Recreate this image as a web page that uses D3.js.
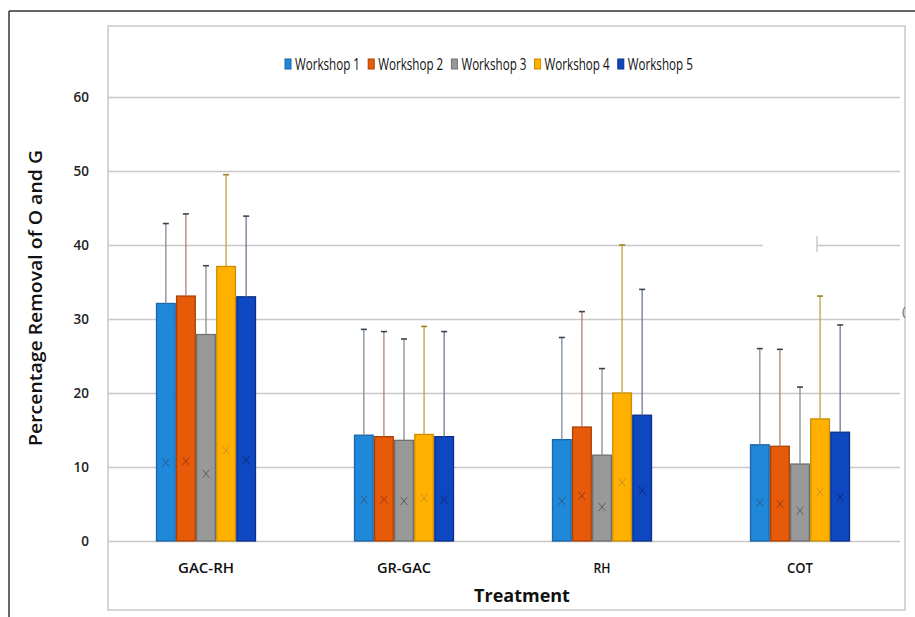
<!DOCTYPE html>
<html>
<head>
<meta charset="utf-8">
<script src="https://cdn.jsdelivr.net/npm/d3@7"></script>
<style>
  html, body { margin: 0; padding: 0; background: #fff; }
  svg { display: block; }
</style>
</head>
<body>
<svg id="chart" width="915" height="617"></svg>
<script>
const categories = ["GAC-RH", "GR-GAC", "RH", "COT"];
const seriesNames = ["Workshop 1", "Workshop 2", "Workshop 3", "Workshop 4", "Workshop 5"];
// bar heights per series (one value per category)
const w1 = [32.1, 14.3, 13.7, 13.0];
const w2 = [33.1, 14.1, 15.4, 12.8];
const w3 = [27.9, 13.6, 11.6, 10.4];
const w4 = [37.1, 14.4, 20.0, 16.5];
const w5 = [33.0, 14.1, 17.0, 14.7];
// upper error bar end values
const e1 = [42.9, 28.6, 27.5, 26.0];
const e2 = [44.2, 28.3, 31.0, 25.9];
const e3 = [37.2, 27.3, 23.3, 20.8];
const e4 = [49.5, 29.0, 40.0, 33.1];
const e5 = [43.9, 28.3, 34.0, 29.2];
// "x" marker values (mean markers)
const m1 = [10.6, 5.6, 5.4, 5.2];
const m2 = [10.8, 5.6, 6.1, 5.0];
const m3 = [9.1, 5.4, 4.6, 4.1];
const m4 = [12.2, 5.8, 7.9, 6.6];
const m5 = [10.9, 5.6, 6.8, 5.9];
const yTicks = [0, 10, 20, 30, 40, 50, 60];

const values = [w1, w2, w3, w4, w5];
const errs = [e1, e2, e3, e4, e5];
const marks = [m1, m2, m3, m4, m5];

const fills = ["#2088d8", "#e65a0a", "#999999", "#ffb000", "#0e48c0"];
const strokes = ["#1a64a8", "#a84000", "#6e6e6e", "#cc8c00", "#0a2e8a"];
const errColors = ["#7d8c9c", "#b08070", "#8c8c8c", "#c0a040", "#6c7a90"];
const markColors = ["#2a5a90", "#a03a10", "#5e5e5e", "#d09020", "#0a2a80"];

const svg = d3.select("#chart");

// outer frame (top and left edges)
svg.append("line").attr("x1", 9).attr("y1", 11).attr("x2", 915).attr("y2", 11)
  .attr("stroke", "#333").attr("stroke-width", 1.5);
svg.append("line").attr("x1", 9).attr("y1", 11).attr("x2", 9).attr("y2", 617)
  .attr("stroke", "#333").attr("stroke-width", 1.5);

// inner chart box
svg.append("rect").attr("x", 108).attr("y", 26).attr("width", 797).attr("height", 584)
  .attr("fill", "none").attr("stroke", "#c8c8c8").attr("stroke-width", 1.5);

const y = d3.scaleLinear().domain([0, 60]).range([541, 97]);
const x0 = d3.scaleBand().domain(categories).range([107, 899]).paddingInner(0.5).paddingOuter(0.25);
const x1 = d3.scaleBand().domain(d3.range(seriesNames.length)).range([0, x0.bandwidth()]).paddingInner(0.07);

// gridlines
const grid = d3.axisLeft(y).tickValues(yTicks).tickSize(-(900 - 108)).tickFormat("");
const gG = svg.append("g").attr("transform", "translate(108,0)").call(grid);
gG.select(".domain").remove();
gG.selectAll("line").attr("stroke", "#c8c8c8").attr("stroke-width", 1.5);

// scan artefact on the 40 gridline
svg.append("rect").attr("x", 763).attr("y", y(40) - 3).attr("width", 54).attr("height", 6).attr("fill", "#fff");
svg.append("line").attr("x1", 817).attr("x2", 817).attr("y1", y(40) - 9).attr("y2", y(40) + 7)
  .attr("stroke", "#c0c0c0").attr("stroke-width", 1.2);
svg.append("text").attr("x", 902).attr("y", 316).attr("font-family", "Open Sans").attr("font-size", 13)
  .attr("fill", "#666").text("(");

// y tick labels
const yAx = d3.axisLeft(y).tickValues(yTicks).tickSize(0).tickPadding(0);
const yG = svg.append("g").attr("transform", "translate(89,0)").call(yAx);
yG.select(".domain").remove();
yG.selectAll("text").attr("font-family", "Open Sans").attr("font-size", 13.5).attr("font-weight", 600)
  .attr("fill", "#222").attr("text-anchor", "end");

// x category labels
const labelW = { "GAC-RH": 56, "GR-GAC": 54, "RH": 17, "COT": 26 };
const xAx = d3.axisBottom(x0).tickSize(0).tickPadding(0);
const xG = svg.append("g").attr("transform", "translate(0,560)").call(xAx);
xG.select(".domain").remove();
xG.selectAll("text").attr("font-family", "Open Sans").attr("font-size", 14.5)
  .attr("font-weight", 600).attr("fill", "#111").attr("dy", "0.88em")
  .attr("textLength", d => labelW[d]).attr("lengthAdjust", "spacingAndGlyphs");

// bars
const groups = svg.append("g").selectAll("g").data(categories).join("g")
  .attr("transform", d => `translate(${x0(d)},0)`);

seriesNames.forEach((s, si) => {
  groups.append("rect")
    .attr("x", x1(si)).attr("width", x1.bandwidth())
    .attr("y", (d, ci) => y(values[si][ci]))
    .attr("height", (d, ci) => y(0) - y(values[si][ci]))
    .attr("fill", fills[si]).attr("stroke", strokes[si]).attr("stroke-width", 1.3);
});

// error bars
seriesNames.forEach((s, si) => {
  const cx = x1(si) + x1.bandwidth() / 2;
  groups.append("line")
    .attr("x1", cx).attr("x2", cx)
    .attr("y1", (d, ci) => y(values[si][ci]))
    .attr("y2", (d, ci) => y(errs[si][ci]))
    .attr("stroke", errColors[si]).attr("stroke-width", 1.3);
  groups.append("line")
    .attr("x1", cx - 3).attr("x2", cx + 3)
    .attr("y1", (d, ci) => y(errs[si][ci]))
    .attr("y2", (d, ci) => y(errs[si][ci]))
    .attr("stroke", si === 3 ? "#a08020" : "#3a4450").attr("stroke-width", 1.6);
});

// x markers
seriesNames.forEach((s, si) => {
  const cx = x1(si) + x1.bandwidth() / 2;
  groups.append("path")
    .attr("d", (d, ci) => {
      const cy = y(marks[si][ci]);
      const r = 4;
      return `M${cx - r * 0.85},${cy - r}L${cx + r * 0.85},${cy + r}M${cx - r * 0.85},${cy + r}L${cx + r * 0.85},${cy - r}`;
    })
    .attr("stroke", markColors[si]).attr("stroke-width", 1).attr("fill", "none");
});

// legend
const legend = svg.append("g").attr("transform", "translate(285,59)");
const leg = legend.selectAll("g").data(seriesNames).join("g")
  .attr("transform", (d, i) => `translate(${i * 83.2},0)`);
leg.append("rect").attr("x", 0).attr("y", 0).attr("width", 6).attr("height", 10)
  .attr("fill", (d, i) => fills[i]).attr("stroke", (d, i) => strokes[i]).attr("stroke-width", 1);
leg.append("text").attr("x", 10).attr("y", 11).attr("font-family", "Open Sans")
  .attr("font-size", 16).attr("fill", "#111")
  .attr("textLength", 65).attr("lengthAdjust", "spacingAndGlyphs").text(d => d);

// axis titles
svg.append("text").attr("x", 522).attr("y", 602).attr("text-anchor", "middle")
  .attr("font-family", "Open Sans").attr("font-size", 18).attr("font-weight", 700).attr("fill", "#111")
  .text("Treatment");
svg.append("text").attr("transform", "translate(42,298) rotate(-90)").attr("text-anchor", "middle")
  .attr("font-family", "Open Sans").attr("font-size", 17.5).attr("font-weight", 600).attr("fill", "#111")
  .attr("textLength", 296).attr("lengthAdjust", "spacingAndGlyphs")
  .text("Percentage Removal of O and G");
</script>
</body>
</html>
